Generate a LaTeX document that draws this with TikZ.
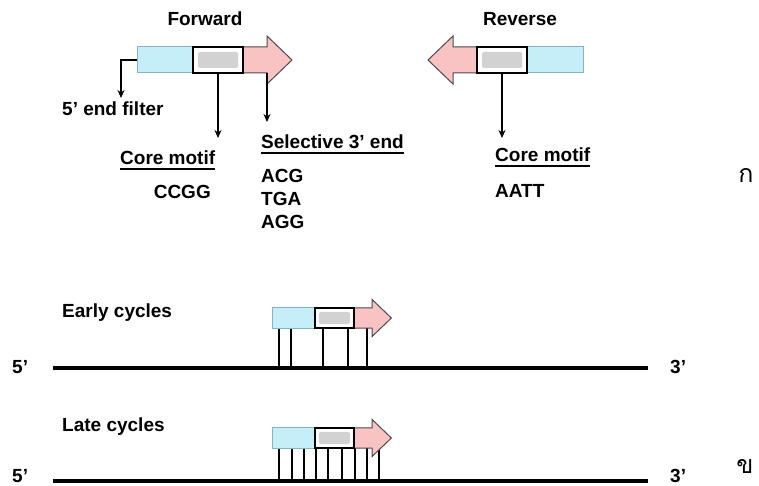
\documentclass[tikz,border=0pt]{standalone}
\usepackage{fontspec}
\setmainfont{Liberation Sans}
\newfontfamily\thaifont[Script=Thai]{Loma}
\usetikzlibrary{arrows.meta}
\definecolor{bluefill}{HTML}{C6EEF8}
\definecolor{blueline}{HTML}{86B4C4}
\definecolor{pinkfill}{HTML}{FAC3C3}
\definecolor{pinkline}{HTML}{4A4A4A}
\definecolor{grayin}{HTML}{D2D2D2}
\begin{document}
\begin{tikzpicture}[x=1pt,y=-1pt,
  lbl/.style={inner sep=0pt,font=\fontsize{19}{23}\selectfont\bfseries},
  thai/.style={inner sep=0pt,font=\fontsize{25}{30}\selectfont\thaifont},
  arr/.style={line width=1.5pt,-{Stealth[length=8pt,width=7pt]}},
  ul/.style={line width=2pt},
  dna/.style={line width=4.5pt},
  tick/.style={line width=1.6pt},
  bluebox/.style={fill=bluefill,draw=blueline,line width=1pt},
  graybox/.style={fill=white,draw=black,line width=1.8pt},
  pinkarrow/.style={fill=pinkfill,draw=pinkline,line width=1pt,line join=miter},
  primer/.pic={
    \draw[bluebox] (0,-13) rectangle (56,13);
    \draw[pinkarrow] (106,-13) -- (130,-13) -- (130,-24) -- (155,0) -- (130,24) -- (130,13) -- (106,13) -- cycle;
    \draw[graybox] (56,-13) rectangle (106,13);
    \fill[grayin,rounded corners=1.5pt] (61,-8) rectangle (101,8);
    \coordinate (-left) at (0,0);
    \coordinate (-gb) at (81,13);
    \coordinate (-pb) at (130,13);
  }]
\useasboundingbox (0,0) rectangle (759,486);

% ---- top: primers ----
\pic (fwd) at (137,60) {primer};
\pic[xscale=-1] (rev) at (583,60) {primer};

\node[lbl,anchor=base] (fwdlbl) at (205,26) {Forward};
\node[lbl,anchor=base] (revlbl) at (520,26) {Reverse};

\coordinate (filtend) at (121,98);
\coordinate (corefend) at (218,138);
\coordinate (selend) at (267,122);
\coordinate (corerend) at (502,138);

\draw[arr] (fwd-left) -| (filtend);
\draw[arr] (fwd-gb) -- (corefend);
\draw[arr] (fwd-pb) -- (selend);
\draw[arr] (rev-gb) -- (corerend);

\node[lbl,anchor=base west] (filt) at (62,116) {5’ end filter};
\node[lbl,anchor=base west] (coref) at (120,165) {Core motif};
\draw[ul] ([yshift=-4pt]coref.base west) -- ([yshift=-4pt]coref.base east);
\node[lbl,anchor=base east] (ccgg) at (211,199) {CCGG};
\node[lbl,anchor=base west] (sel) at (261,149) {Selective 3’ end};
\draw[ul] ([yshift=-4pt]sel.base west) -- ([yshift=-4pt]sel.base east);
\node[lbl,anchor=base west] (acg) at (261,183) {ACG};
\node[lbl,anchor=base west] (tga) at (261,206) {TGA};
\node[lbl,anchor=base west] (agg) at (261,229) {AGG};
\node[lbl,anchor=base west] (corer) at (495,162) {Core motif};
\draw[ul] ([yshift=-4pt]corer.base west) -- ([yshift=-4pt]corer.base east);
\node[lbl,anchor=base west] (aatt) at (495,197) {AATT};
\node[thai,anchor=base] (ka) at (746,183) {ก};

% ---- early cycles ----
\node[lbl,anchor=base west] (early) at (62,317) {Early cycles};
\coordinate (d1a) at (53,368);
\coordinate (d1b) at (648,368);
\foreach \x in {279,291,323,348,367} \draw[tick] (\x,327) -- (\x,368);
\draw[dna] (d1a) -- (d1b);
\pic[scale=0.77] (early) at (272,318) {primer};
\node[lbl,anchor=base west] (f1) at (12,373) {5’};
\node[lbl,anchor=base west] (t1) at (670,373) {3’};

% ---- late cycles ----
\node[lbl,anchor=base west] (late) at (62,431) {Late cycles};
\coordinate (d2a) at (53,481);
\coordinate (d2b) at (648,481);
\foreach \x in {279,292,304,316,328,342,355,367,379} \draw[tick] (\x,447) -- (\x,481);
\draw[dna] (d2a) -- (d2b);
\pic[scale=0.77] (late) at (272,438) {primer};
\node[lbl,anchor=base west] (f2) at (12,482) {5’};
\node[lbl,anchor=base west] (t2) at (670,482) {3’};
\node[thai,anchor=base] (kho) at (745,473) {ข};
\end{tikzpicture}
\end{document}
